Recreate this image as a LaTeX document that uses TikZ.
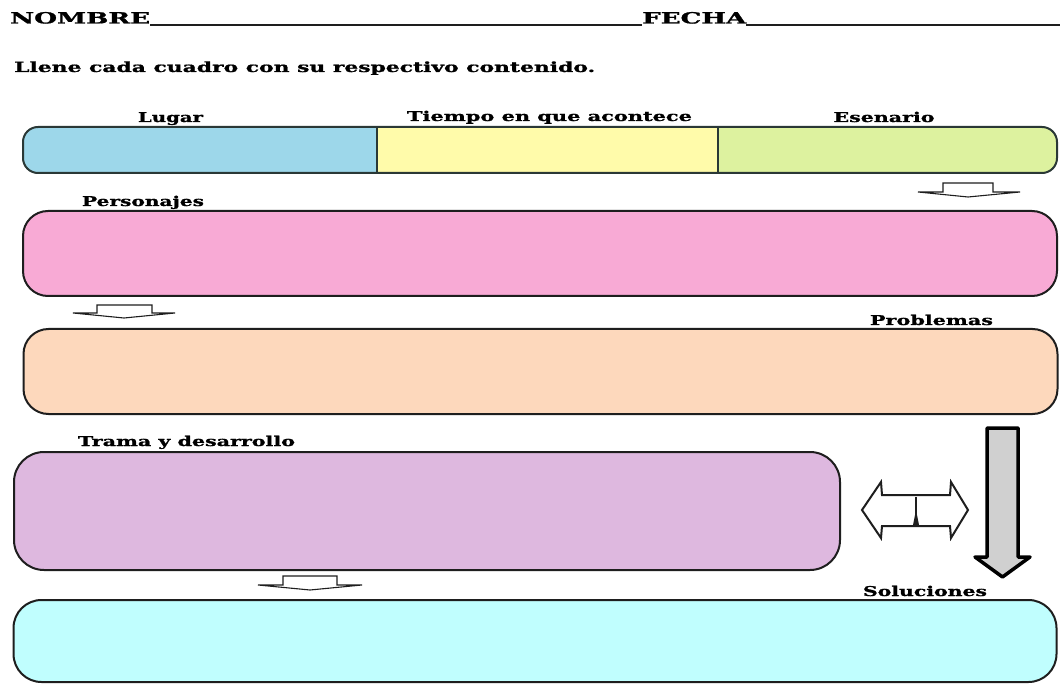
\documentclass[tikz,border=0pt]{standalone}
\usepackage{fontspec}
\setmainfont{DejaVu Serif}[BoldFont=DejaVu Serif Bold, BoldFeatures={FakeBold=1}]
\usepackage{graphicx}
\newlength\fitlen
\newcommand\fitw[2]{\settowidth\fitlen{#2}\pgfmathsetmacro\fitsx{#1/\fitlen}\scalebox{\fitsx}[1]{#2}}
\definecolor{cblue}{HTML}{9DD7EA}
\definecolor{cyell}{HTML}{FFFBAA}
\definecolor{cgreen}{HTML}{DDF29F}
\definecolor{cpink}{HTML}{F8AAD5}
\definecolor{cpeach}{HTML}{FDD8BC}
\definecolor{cpurple}{HTML}{DEB8DF}
\definecolor{ccyan}{HTML}{C0FEFE}
\definecolor{cgray}{HTML}{D0D0D0}
\definecolor{cline}{HTML}{1E1E1E}
\definecolor{crow}{HTML}{2A3836}
\tikzset{
  lbl/.style={inner sep=0pt, anchor=base, font=\bfseries\fontsize{13.5}{15}\selectfont},
  head/.style={inner sep=0pt, anchor=base west, font=\bfseries\fontsize{15.5}{17}\selectfont},
  box/.style={draw=cline, line width=2pt, inner sep=0pt, outer sep=0pt},
  smallarrow/.style={draw=cline, fill=white, line width=1.1pt, line join=miter},
  uline/.style={draw=cline, line width=1.4pt}
}
\begin{document}
\begin{tikzpicture}[x=1pt,y=-1pt]
\useasboundingbox[fill=white] (0,0) rectangle (1060,684);

% header
\node[head] (nombre) at (10,23.5) {\fitw{140}{NOMBRE}};
\node[head] (fecha) at (642,23.5) {\fitw{104}{FECHA}};
\coordinate (u1e) at (642,25);
\coordinate (u2e) at (1060,25);
\draw[uline] (nombre.east |- u1e) -- (u1e);
\draw[uline] (fecha.east |- u2e) -- (u2e);
\node[head, font=\bfseries\fontsize{14}{16}\selectfont] (inst) at (14,72) {\fitw{581}{Llene cada cuadro con su respectivo contenido.}};

% row 1
\begin{scope}
  \clip[rounded corners=15pt] (23,127) rectangle (1057,173);
  \fill[cblue] (23,127) rectangle (377,173);
  \fill[cyell] (377,127) rectangle (718,173);
  \fill[cgreen] (718,127) rectangle (1057,173);
\end{scope}
\node[box, draw=crow, rounded corners=15pt, minimum width=1034pt, minimum height=46pt] (row) at (540,150) {};
\coordinate (d1t) at (377,127); \coordinate (d1b) at (377,173);
\coordinate (d2t) at (718,127); \coordinate (d2b) at (718,173);
\draw[crow, line width=2pt] (d1t) -- (d1b);
\draw[crow, line width=2pt] (d2t) -- (d2b);
\node[lbl] (lugar) at (170.5,122) {\fitw{65}{Lugar}};
\node[lbl] (tiempo) at (549.5,121) {\fitw{285}{Tiempo en que acontece}};
\node[lbl] (esen) at (884,122) {\fitw{101}{Esenario}};

% small arrow 1
\draw[smallarrow] (943,183) -- (993,183) -- (993,192) -- (1020,192) -- (968,197) -- (918,192) -- (943,192) -- cycle;

% pink
\node[lbl] (pers) at (143,206) {\fitw{122}{Personajes}};
\node[box, fill=cpink, rounded corners=25pt, minimum width=1034pt, minimum height=85pt] (pinkbox) at (540,253.5) {};

% small arrow 2
\draw[smallarrow] (97,305) -- (152,305) -- (152,313) -- (175,313) -- (124,318) -- (73,313) -- (97,313) -- cycle;

% peach
\node[lbl] (prob) at (931.5,325) {\fitw{123}{Problemas}};
\node[box, fill=cpeach, rounded corners=25pt, minimum width=1034pt, minimum height=85pt] (peachbox) at (540.5,371.5) {};

% purple
\node[lbl] (trama) at (186.5,446) {\fitw{217}{Trama y desarrollo}};
\node[box, fill=cpurple, rounded corners=30pt, minimum width=826pt, minimum height=118pt] (purplebox) at (427,511) {};

% double arrow
\draw[draw=cline, fill=white, line width=2pt, line join=miter]
  (862,510) -- (881,482) -- (882,495) -- (950,495) -- (951,482) -- (968,510)
  -- (951,538) -- (950,526) -- (882,526) -- (881,538) -- cycle;
\coordinate (dt) at (916,497); \coordinate (db) at (916,525);
\draw[cline, line width=2pt] (dt) -- (db);
\fill[cline] (913,525) -- (919,525) -- (916,510) -- cycle;

% big grey arrow
\draw[draw=black, fill=cgray, line width=3.5pt, line join=round]
  (987,428) -- (1018,428) -- (1018,557) -- (1030,557) -- (1002.5,577) -- (975,557) -- (987,557) -- cycle;

% small arrow 3
\draw[smallarrow] (283,576) -- (337,576) -- (337,585) -- (362,585) -- (310,590) -- (258,585) -- (283,585) -- cycle;

% cyan
\node[lbl] (sol) at (925,596) {\fitw{124}{Soluciones}};
\node[box, fill=ccyan, rounded corners=28pt, minimum width=1043pt, minimum height=82pt] (cyanbox) at (535,641) {};
\end{tikzpicture}
\end{document}
